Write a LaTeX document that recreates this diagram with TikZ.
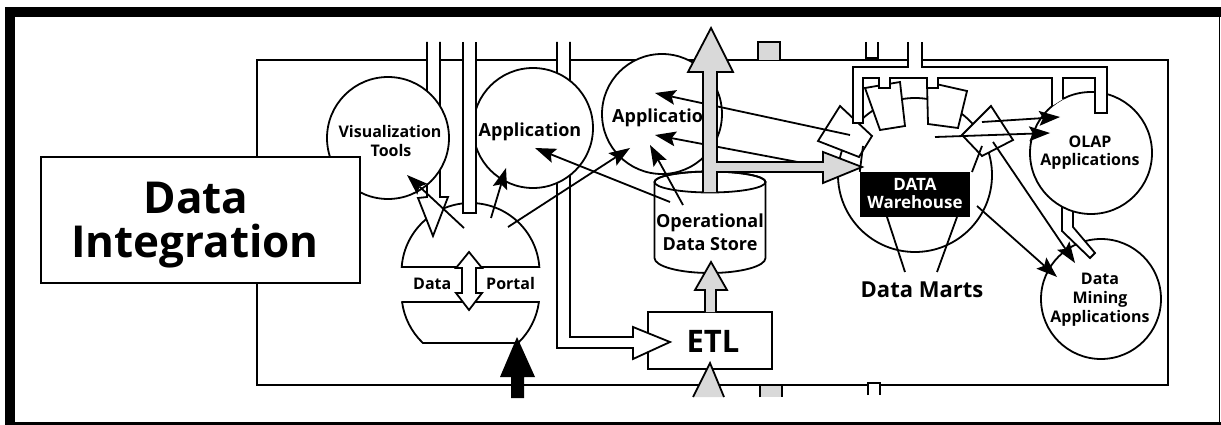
\documentclass[tikz,border=0pt]{standalone}
\usepackage{fontspec}
\setmainfont{Open Sans}
\usetikzlibrary{calc}
\definecolor{pipegray}{gray}{0.85}
\tikzset{
  ln/.style={line width=1.8pt, line join=miter},
  bubble/.style={circle, draw, line width=1.8pt, fill=white, inner sep=0pt},
  pipe/.style={draw, line width=1.8pt, fill=white, line join=miter},
  grayarrow/.style={draw, line width=1.8pt, fill=pipegray, line join=miter},
  lbl/.style={anchor=base, inner sep=0pt, font=\bfseries\fontsize{16}{19}\selectfont},
  biglbl/.style={anchor=base, inner sep=0pt, font=\bfseries\fontsize{18}{21}\selectfont},
}
% a thin flow line from #1 to #2 ending in a solid notched head
\newcommand\flowarrow[2]{%
  \path ($(#2)!21pt!(#1)$) coordinate (hb) ($(#2)!17pt!(#1)$) coordinate (hn);
  \draw[ln] (#1) -- (hn);
  \fill (#2) -- ($(hb)!7.5pt!90:(#2)$) -- (hn) -- ($(hb)!7.5pt!-90:(#2)$) -- cycle;
}
\begin{document}
\begin{tikzpicture}[x=1pt,y=-1pt]
\useasboundingbox (0,0) rectangle (1221,425);

% heavy page frame
\fill (5,7) rectangle (1221,17);
\fill (5,7) rectangle (15,425);
\fill (5,421.5) rectangle (1221,425);
\draw[line width=1.5pt] (1219.5,17) -- (1219.5,421.5);

% system boundary
\draw[ln] (257,60) rectangle (1168,385);

% ETL box
\node[draw, line width=1.8pt, fill=white, minimum width=124pt, minimum height=57pt, inner sep=0pt] (etl) at (710,340.5) {};
\node[anchor=base, inner sep=0pt, font=\bfseries\fontsize{31}{31}\selectfont] (etltext) at (713,352) {ETL};

% data portal: dome and bowl
\draw[pipe] (401.7,267) arc[start angle=-175.85, end angle=-4.15, radius=69] -- cycle;
\draw[pipe] (402.1,302) -- (538.9,302) arc[start angle=7.5, end angle=46.4, radius=69]
  -- (422.9,343) arc[start angle=133.6, end angle=172.5, radius=69] -- cycle;
\draw[pipe] (469,252) -- (482,268) -- (476,268) -- (476,293) -- (482,293) -- (469,310)
  -- (456,293) -- (462,293) -- (462,268) -- (456,268) -- cycle;
\node[lbl, anchor=base west] (pdata) at (413,289) {Data};
\node[lbl, anchor=base west] (pportal) at (486,289) {Portal};

% hollow feed pipes from the top
\fill[white] (427,42) -- (427,197) -- (418,198) -- (433,236) -- (448,197) -- (440,197) -- (440,42) -- cycle;
\draw[ln] (427,42) -- (427,197) -- (418,198) -- (433,236) -- (448,197) -- (440,197) -- (440,42);
\fill[white] (557,42) -- (557,348) -- (633,348) -- (633,359) -- (670,342) -- (633,327) -- (633,337) -- (570,337) -- (570,42) -- cycle;
\draw[ln] (557,42) -- (557,348) -- (633,348) -- (633,359) -- (670,342) -- (633,327) -- (633,337) -- (570,337) -- (570,42);

% application bubbles
\node[bubble, minimum size=122pt] (viz) at (388,138) {};
\node[lbl] (viz1) at (390,138) {Visualization};
\node[lbl] (viz2) at (391,157) {Tools};
\node[bubble, minimum size=120pt] (app1) at (533,128) {};
\node[biglbl] (app1t) at (530,137) {Application};
\node[bubble, minimum size=120pt] (app2) at (662,114) {};
\node[biglbl, anchor=base west] (app2t) at (612,123) {Application};

% pipe into the portal
\fill[white] (463,42) -- (463,213) -- (476,213) -- (476,42) -- cycle;
\draw[ln] (463,42) -- (463,213) -- (476,213) -- (476,42);

% data integration block
\node[draw, line width=1.8pt, fill=white, minimum width=319pt, minimum height=126pt, inner sep=0pt] (di) at (200.5,220) {};
\node[anchor=base, inner sep=0pt, font=\bfseries\fontsize{44}{44}\selectfont] (di1) at (196,213) {Data};
\node[anchor=base, inner sep=0pt, font=\bfseries\fontsize{44}{44}\selectfont] (di2) at (195,257) {Integration};

% operational data store
\draw[pipe] (654.5,182) -- (654.5,258) arc[start angle=180, end angle=0, x radius=55.5, y radius=15]
  -- (765.5,182) arc[start angle=0, end angle=-180, x radius=55.5, y radius=10.5] -- cycle;
\draw[ln] (710,182) ellipse[x radius=55.5, y radius=10.5];
\node[biglbl] (ods1) at (710,227) {Operational};
\node[biglbl] (ods2) at (710,250) {Data Store};

% data warehouse with its marts
\node[bubble, minimum size=154pt] (dw) at (915,175) {};
\draw[pipe] (840,106) -- (818,141) -- (859,157) -- (872,136) -- cycle;
\draw[pipe] (865,88) -- (900,82) -- (905,126) -- (880,130) -- cycle;
\draw[pipe] (927,82) -- (967,91) -- (958,128) -- (928,124) -- cycle;
\draw[pipe] (991,106) -- (1013,140) -- (982,156) -- (962,135) -- cycle;
\node[fill=black, minimum width=110pt, minimum height=45pt, inner sep=0pt] (dwbox) at (915,194.5) {};
\draw[ln] (863,146) -- (dwbox.north west);
\draw[ln] (982,146) -- (972,172);
\node[lbl, text=white, font=\bfseries\fontsize{17}{19}\selectfont] (dwt1) at (915,190) {DATA};
\node[lbl, text=white, font=\bfseries\fontsize{17}{19}\selectfont] (dwt2) at (915,208) {Warehouse};
\node[anchor=base, inner sep=0pt, font=\bfseries\fontsize{22}{24}\selectfont] (marts) at (922,297) {Data Marts};
\coordinate (m1) at (905,272);
\coordinate (m2) at (937,272);
\draw[ln] (m1) -- (887,217);
\draw[ln] (m2) -- (957,217);

% OLAP and data mining
\node[bubble, minimum size=120pt] (dm) at (1101,299) {};
\node[lbl] (dm1) at (1100,284) {Data};
\node[lbl] (dm2) at (1100,303) {Mining};
\node[lbl] (dm3) at (1100,322) {Applications};
\draw[pipe] (1062,200) -- (1062,231) -- (1090,258) -- (1095,253) -- (1073,227) -- (1073,200);
\node[bubble, minimum size=122pt] (olap) at (1091,153) {};
\node[lbl] (olap1) at (1090,148) {OLAP};
\node[lbl] (olap2) at (1090,166) {Applications};

% distribution pipe across the top of the warehouse
\fill[white] (908,42) -- (908,67) -- (853,67) -- (853,123) -- (863,123) -- (863,78) -- (879,78) -- (879,88)
  -- (890,88) -- (890,78) -- (927,78) -- (927,88) -- (938,88) -- (938,78) -- (1052,78) -- (1052,106)
  -- (1063,99) -- (1063,78) -- (1095,78) -- (1095,113) -- (1107,113) -- (1107,67) -- (922,67) -- (922,42) -- cycle;
\draw[ln] (908,42) -- (908,67) -- (853,67) -- (853,123) -- (863,123) -- (863,78) -- (879,78) -- (879,88)
  -- (890,88) -- (890,78) -- (927,78) -- (927,88) -- (938,88) -- (938,78) -- (1052,78) -- (1052,106);
\draw[ln] (1063,99) -- (1063,78) -- (1095,78) -- (1095,113) -- (1107,113) -- (1107,67) -- (922,67) -- (922,42);

% small taps on the boundary
\draw[ln, fill=pipegray] (758,60) -- (758,42) -- (780,42) -- (780,60);
\draw[ln, fill=pipegray] (760,397) -- (760,385) -- (782,385) -- (782,397);
\draw[ln] (866,42) -- (866,58) -- (878,58) -- (878,42);
\draw[ln, fill=white] (868,395) -- (868,383) -- (880,383) -- (880,395);

% flows
\coordinate (p1) at (464,228);  \coordinate (tviz) at (407,175);
\coordinate (p2) at (491,218);  \coordinate (tapp1a) at (506,168);
\coordinate (p3) at (508,227);  \coordinate (tapp2a) at (630,148);
\coordinate (o1) at (670,202);  \coordinate (tapp1b) at (535,148);
\coordinate (o2) at (683,205);  \coordinate (tapp2b) at (650,145);
\coordinate (w1) at (850,135);  \coordinate (tapp2c) at (655,93);
\coordinate (w2) at (840,170);  \coordinate (tapp2d) at (655,135);
\coordinate (w3) at (982,122);  \coordinate (tolapa) at (1060,117);
\coordinate (w4) at (935,137);  \coordinate (tolapb) at (1050,133);
\coordinate (w5) at (977,206);  \coordinate (tdma) at (1057,277);
\coordinate (w6) at (993,142);  \coordinate (tdmb) at (1075,263);
\flowarrow{p1}{tviz}
\flowarrow{p2}{tapp1a}
\flowarrow{p3}{tapp2a}
\flowarrow{o1}{tapp1b}
\flowarrow{o2}{tapp2b}
\flowarrow{w1}{tapp2c}
\flowarrow{w2}{tapp2d}
\flowarrow{w3}{tolapa}
\flowarrow{w4}{tolapb}
\flowarrow{w5}{tdma}
\flowarrow{w6}{tdmb}

% bulk data movement
\fill[pipegray] (703,192) -- (703,72) -- (688,72) -- (711,28) -- (733,72) -- (717,72) -- (717,162) -- (823,162)
  -- (823,152) -- (862,167) -- (823,183) -- (823,172) -- (717,172) -- (717,192) -- cycle;
\draw[ln] (703,192) -- (703,72) -- (688,72) -- (711,28) -- (733,72) -- (717,72) -- (717,162) -- (823,162)
  -- (823,152) -- (862,167) -- (823,183) -- (823,172) -- (717,172) -- (717,192);
\draw[grayarrow] (705,312) -- (705,290) -- (695,290) -- (711,262) -- (727,290) -- (716,290) -- (716,312);
\fill[pipegray] (693,397) -- (710,363) -- (724,397) -- cycle;
\draw[ln] (693,397) -- (710,363) -- (724,397);
\fill (511,398) -- (511,377) -- (500,377) -- (517,337) -- (535,377) -- (524,377) -- (524,398) -- cycle;

\end{tikzpicture}
\end{document}
